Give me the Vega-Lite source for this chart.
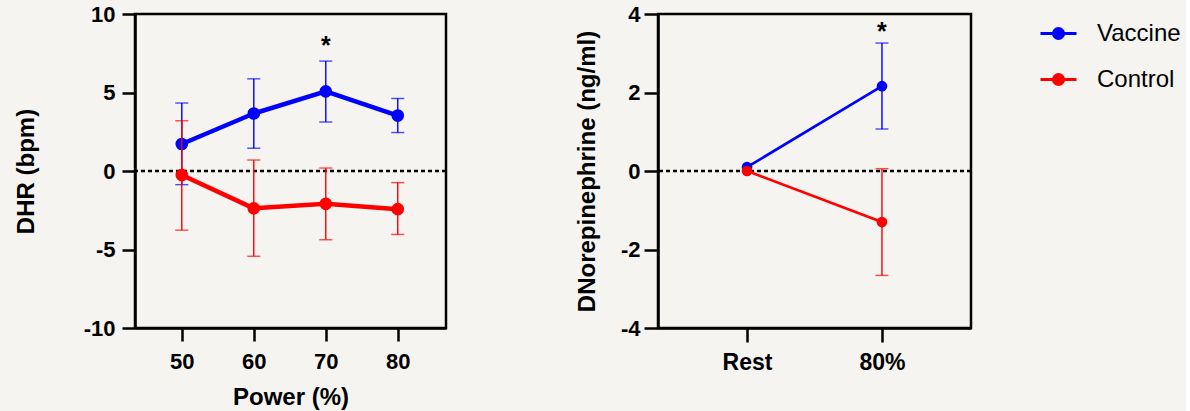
{
  "$schema": "https://vega.github.io/schema/vega-lite/v6.json",
  "background": "#f5f4f0",
  "padding": {"left": 12, "top": 1, "right": 5, "bottom": 0},
  "datasets": {
    "hr": [
      {"group": "Vaccine", "power": 50, "mean": 1.72, "lo": -0.87, "hi": 4.33},
      {"group": "Vaccine", "power": 60, "mean": 3.66, "lo": 1.45, "hi": 5.87},
      {"group": "Vaccine", "power": 70, "mean": 5.07, "lo": 3.12, "hi": 7.0},
      {"group": "Vaccine", "power": 80, "mean": 3.53, "lo": 2.45, "hi": 4.62},
      {"group": "Control", "power": 50, "mean": -0.26, "lo": -3.77, "hi": 3.2},
      {"group": "Control", "power": 60, "mean": -2.38, "lo": -5.43, "hi": 0.7},
      {"group": "Control", "power": 70, "mean": -2.09, "lo": -4.38, "hi": 0.19},
      {"group": "Control", "power": 80, "mean": -2.43, "lo": -4.04, "hi": -0.74}
    ],
    "ne": [
      {"group": "Vaccine", "stage": "Rest", "mean": 0.1, "lo": null, "hi": null},
      {"group": "Vaccine", "stage": "80%", "mean": 2.16, "lo": 1.07, "hi": 3.26},
      {"group": "Control", "stage": "Rest", "mean": 0.0, "lo": null, "hi": null},
      {"group": "Control", "stage": "80%", "mean": -1.3, "lo": -2.66, "hi": 0.06}
    ],
    "hrStar": [{"power": 70, "y": 7.95, "label": "*"}],
    "neStar": [{"stage": "80%", "y": 3.53, "label": "*"}],
    "zero": [{"zero": 0}]
  },
  "spacing": 125,
  "hconcat": [
    {
      "width": 311,
      "height": 314,
      "layer": [
        {
          "data": {"name": "zero"},
          "mark": {"type": "rule", "color": "black", "strokeWidth": 2.5, "strokeDash": [4, 3]},
          "encoding": {
            "y": {"field": "zero", "type": "quantitative", "scale": {"domain": [-10, 10], "nice": false}, "axis": {"values": [-10, -5, 0, 5, 10], "title": "DHR (bpm)", "titlePadding": 45, "labelPadding": 7, "labelExpr": "toString(datum.value)"}}
          }
        },
        {
          "data": {"name": "hr"},
          "transform": [{"filter": "datum.group === 'Vaccine'"}],
          "encoding": {
            "x": {"field": "power", "type": "quantitative", "scale": {"domain": [43.5, 86.7], "nice": false, "zero": false}, "axis": {"values": [50, 60, 70, 80], "title": "Power (%)", "labelPadding": 10, "titlePadding": 13, "format": "d"}},
            "color": {"field": "group", "type": "nominal", "scale": {"domain": ["Vaccine", "Control"], "range": ["#0000ff", "#ff0000"]}, "title": null}
          },
          "layer": [
            {"mark": {"type": "errorbar", "thickness": 1.4, "ticks": {"size": 13}},
             "encoding": {"y": {"field": "lo", "type": "quantitative", "title": "DHR (bpm)"}, "y2": {"field": "hi"}}},
            {"mark": {"type": "line", "strokeWidth": 4.5}, "encoding": {"y": {"field": "mean", "type": "quantitative", "title": "DHR (bpm)"}}},
            {"mark": {"type": "point", "filled": true, "opacity": 1, "fillOpacity": 1, "size": 160}, "encoding": {"y": {"field": "mean", "type": "quantitative", "title": "DHR (bpm)"}}}
          ]
        },
        {
          "data": {"name": "hr"},
          "transform": [{"filter": "datum.group === 'Control'"}],
          "encoding": {
            "x": {"field": "power", "type": "quantitative", "scale": {"domain": [43.5, 86.7], "nice": false, "zero": false}, "axis": {"values": [50, 60, 70, 80], "title": "Power (%)", "labelPadding": 10, "titlePadding": 13, "format": "d"}},
            "color": {"field": "group", "type": "nominal", "scale": {"domain": ["Vaccine", "Control"], "range": ["#0000ff", "#ff0000"]}, "title": null}
          },
          "layer": [
            {"mark": {"type": "errorbar", "thickness": 1.4, "ticks": {"size": 13}},
             "encoding": {"y": {"field": "lo", "type": "quantitative", "title": "DHR (bpm)"}, "y2": {"field": "hi"}}},
            {"mark": {"type": "line", "strokeWidth": 4.5}, "encoding": {"y": {"field": "mean", "type": "quantitative", "title": "DHR (bpm)"}}},
            {"mark": {"type": "point", "filled": true, "opacity": 1, "fillOpacity": 1, "size": 160}, "encoding": {"y": {"field": "mean", "type": "quantitative", "title": "DHR (bpm)"}}}
          ]
        },
        {
          "data": {"name": "hrStar"},
          "mark": {"type": "text", "font": "Liberation Sans", "fontWeight": "bold", "fontSize": 25, "color": "black", "baseline": "middle"},
          "encoding": {
            "x": {"field": "power", "type": "quantitative"},
            "y": {"field": "y", "type": "quantitative", "title": "DHR (bpm)"},
            "text": {"field": "label"}
          }
        }
      ]
    },
    {
      "width": 313,
      "height": 314,
      "layer": [
        {
          "data": {"name": "zero"},
          "mark": {"type": "rule", "color": "black", "strokeWidth": 2.5, "strokeDash": [4, 3]},
          "encoding": {
            "y": {"field": "zero", "type": "quantitative", "scale": {"domain": [-4, 4], "nice": false}, "axis": {"values": [-4, -2, 0, 2, 4], "title": "DNorepinephrine (ng/ml)", "titlePadding": 21, "labelPadding": 4, "tickSize": 14, "labelExpr": "toString(datum.value)"}}
          }
        },
        {
          "data": {"name": "ne"},
          "transform": [{"filter": "datum.group === 'Vaccine'"}],
          "encoding": {
            "x": {"field": "stage", "type": "nominal", "sort": ["Rest", "80%"], "scale": {"type": "point", "padding": 0.66}, "axis": {"title": null, "labelAngle": 0, "labelFontSize": 23, "labelPadding": 9, "tickSize": 14}},
            "color": {"field": "group", "type": "nominal", "scale": {"domain": ["Vaccine", "Control"], "range": ["#0000ff", "#ff0000"]}, "title": null}
          },
          "layer": [
            {"transform": [{"filter": "datum.lo != null"}],
             "mark": {"type": "errorbar", "thickness": 1.4, "ticks": {"size": 13}},
             "encoding": {"y": {"field": "lo", "type": "quantitative", "title": "DNorepinephrine (ng/ml)"}, "y2": {"field": "hi"}}},
            {"mark": {"type": "line", "strokeWidth": 2.6}, "encoding": {"y": {"field": "mean", "type": "quantitative", "title": "DNorepinephrine (ng/ml)"}}},
            {"mark": {"type": "point", "filled": true, "opacity": 1, "fillOpacity": 1, "size": 115}, "encoding": {"y": {"field": "mean", "type": "quantitative", "title": "DNorepinephrine (ng/ml)"}}}
          ]
        },
        {
          "data": {"name": "ne"},
          "transform": [{"filter": "datum.group === 'Control'"}],
          "encoding": {
            "x": {"field": "stage", "type": "nominal", "sort": ["Rest", "80%"], "scale": {"type": "point", "padding": 0.66}, "axis": {"title": null, "labelAngle": 0, "labelFontSize": 23, "labelPadding": 9, "tickSize": 14}},
            "color": {"field": "group", "type": "nominal", "scale": {"domain": ["Vaccine", "Control"], "range": ["#0000ff", "#ff0000"]}, "title": null}
          },
          "layer": [
            {"transform": [{"filter": "datum.lo != null"}],
             "mark": {"type": "errorbar", "thickness": 1.4, "ticks": {"size": 13}},
             "encoding": {"y": {"field": "lo", "type": "quantitative", "title": "DNorepinephrine (ng/ml)"}, "y2": {"field": "hi"}}},
            {"mark": {"type": "line", "strokeWidth": 2.6}, "encoding": {"y": {"field": "mean", "type": "quantitative", "title": "DNorepinephrine (ng/ml)"}}},
            {"mark": {"type": "point", "filled": true, "opacity": 1, "fillOpacity": 1, "size": 115}, "encoding": {"y": {"field": "mean", "type": "quantitative", "title": "DNorepinephrine (ng/ml)"}}}
          ]
        },
        {
          "data": {"name": "neStar"},
          "mark": {"type": "text", "font": "Liberation Sans", "fontWeight": "bold", "fontSize": 25, "color": "black", "baseline": "middle"},
          "encoding": {
            "x": {"field": "stage", "type": "nominal", "sort": ["Rest", "80%"]},
            "y": {"field": "y", "type": "quantitative", "title": "DNorepinephrine (ng/ml)"},
            "text": {"field": "label"}
          }
        }
      ]
    }
  ],
  "config": {
    "font": "Liberation Sans",
    "view": {"stroke": "black", "strokeWidth": 2.5},
    "point": {"opacity": 1, "filled": true},
    "axis": {
      "grid": false, "domainColor": "black", "domainWidth": 2.5, "tickColor": "black", "tickWidth": 2.5, "tickSize": 13,
      "labelFont": "Liberation Sans", "labelFontWeight": "bold", "labelFontSize": 22, "labelColor": "black",
      "titleFont": "Liberation Sans", "titleFontWeight": "bold", "titleFontSize": 24, "titleColor": "black",
      "labelFlush": false, "labelOverlap": false
    },
    "legend": {
      "orient": "right", "offset": 65, "padding": 0,
      "labelFont": "Liberation Sans", "labelFontSize": 24, "labelColor": "black", "labelOffset": 19,
      "symbolType": "M-1,0L1,0M-0.28,0A0.28,0.28 0 1,1 0.28,0A0.28,0.28 0 1,1 -0.28,0Z",
      "symbolSize": 1296, "symbolStrokeWidth": 3, "symbolOpacity": 1, "rowPadding": 14
    }
  }
}
